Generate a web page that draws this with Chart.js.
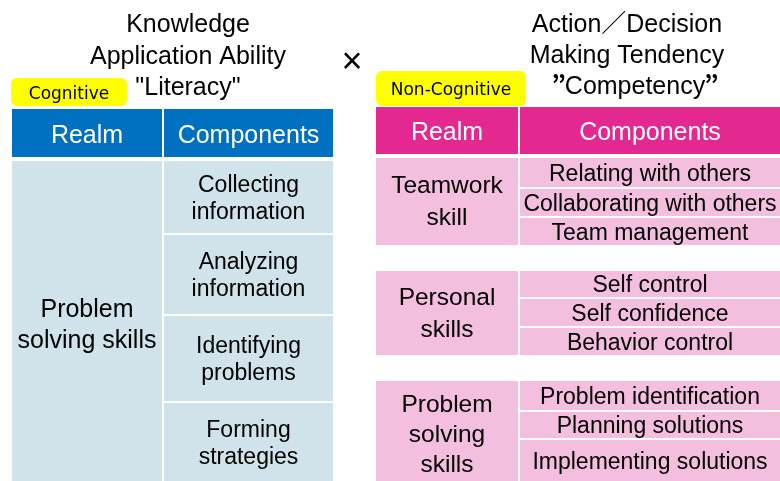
<!DOCTYPE html>
<html>
<head>
<meta charset="utf-8">
<script src="https://cdn.jsdelivr.net/npm/chart.js@4"></script>
<style>
  html, body { margin: 0; padding: 0; background: #ffffff; }
  canvas { display: block; }
</style>
</head>
<body>
<canvas id="skillsChart" width="780" height="481"></canvas>
<script>
// --- content ---
var leftTitle = ['Knowledge', 'Application Ability', '"Literacy"'];
var rightTitle = ['Action\uFF0FDecision', 'Making Tendency', 'Competency'];
var badgeLabels = ['Cognitive', 'Non-Cognitive'];
var headerLabels = ['Realm', 'Components'];
var leftRealm = ['Problem', 'solving skills'];
var leftComponents = [
    ['Collecting', 'information'],
    ['Analyzing', 'information'],
    ['Identifying', 'problems'],
    ['Forming', 'strategies']
];
var rightRealms = [
    ['Teamwork', 'skill'],
    ['Personal', 'skills'],
    ['Problem', 'solving', 'skills']
];
var rightComponents = [
    ['Relating with others', 'Collaborating with others', 'Team management'],
    ['Self control', 'Self confidence', 'Behavior control'],
    ['Problem identification', 'Planning solutions', 'Implementing solutions']
];

// --- layout (in scale units, same as pixels here) ---
var LEFT_X = { realm: [12, 162], comp: [164, 333], title: 188 };
var LEFT_HEAD_Y = [109, 157];
var LEFT_ROWS = [[161, 233], [235, 314], [316, 401], [403, 481]];
var RIGHT_X = { realm: [376, 518], comp: [520, 780], title: 627 };
var RIGHT_HEAD_Y = [107, 154];
var RIGHT_ROWS = [
    [[158, 187], [189, 216], [218, 245]],
    [[271, 297], [299, 326], [328, 355]],
    [[381, 410], [412, 438], [440, 481]]
];

var COLORS = {
    blueHead: '#0070c0',
    blueBody: '#d1e3ea',
    pinkHead: '#e3288f',
    pinkBody: '#f4bedf',
    badge: '#ffff00',
    text: '#000000'
};
var FONT = '"Liberation Sans", Arial, "Noto Sans CJK JP", sans-serif';

var tablePlugin = {
    id: 'tableDraw',
    afterDraw: function(chart) {
        var ctx = chart.ctx;
        var sx = chart.scales.x;
        var sy = chart.scales.y;

        function rect(x0, x1, y0, y1, color) {
            var a = sx.getPixelForValue(x0);
            var b = sx.getPixelForValue(x1);
            var c = sy.getPixelForValue(y0);
            var d = sy.getPixelForValue(y1);
            ctx.fillStyle = color;
            ctx.fillRect(a, c, b - a, d - c);
        }

        // centred lines of text; cy is the middle of the capitals
        function lines(textLines, cx, cy, size, gap, color) {
            ctx.font = size + 'px ' + FONT;
            ctx.fillStyle = color || COLORS.text;
            ctx.textAlign = 'center';
            ctx.textBaseline = 'alphabetic';
            var start = cy - (textLines.length - 1) * gap / 2;
            textLines.forEach(function(t, i) {
                ctx.fillText(t, sx.getPixelForValue(cx), sy.getPixelForValue(start + i * gap + size * 0.358));
            });
        }

        function badge(label, x0, x1, y0, y1) {
            var a = sx.getPixelForValue(x0);
            var b = sx.getPixelForValue(x1);
            var c = sy.getPixelForValue(y0);
            var d = sy.getPixelForValue(y1);
            ctx.fillStyle = COLORS.badge;
            ctx.beginPath();
            ctx.roundRect(a, c, b - a, d - c, 6);
            ctx.fill();
            ctx.font = '17px "DejaVu Sans", sans-serif';
            ctx.fillStyle = COLORS.text;
            ctx.textAlign = 'center';
            ctx.textBaseline = 'alphabetic';
            ctx.fillText(label, (a + b) / 2, (c + d) / 2 + 6.5);
        }

        ctx.save();

        // titles
        ctx.font = '25px ' + FONT;
        ctx.fillStyle = COLORS.text;
        ctx.textAlign = 'center';
        ctx.textBaseline = 'alphabetic';
        var baselines = [32, 64, 95];
        leftTitle.forEach(function(t, i) {
            ctx.fillText(t, sx.getPixelForValue(LEFT_X.title), sy.getPixelForValue(baselines[i]));
        });
        var rBaselines = [32, 63, 94];
        ctx.fillText(rightTitle[0], sx.getPixelForValue(RIGHT_X.title), sy.getPixelForValue(rBaselines[0]));
        ctx.fillText(rightTitle[1], sx.getPixelForValue(RIGHT_X.title), sy.getPixelForValue(rBaselines[1]));

        // third line wrapped in heavy full-width quote marks
        var q = '\u201D';
        var word = rightTitle[2];
        var wordW = ctx.measureText(word).width;
        var qFont = 'bold 25px "Noto Sans CJK JP", sans-serif';
        var mid = sx.getPixelForValue(635);
        var by = sy.getPixelForValue(rBaselines[2]);
        ctx.textAlign = 'left';
        ctx.fillText(word, mid - wordW / 2, by);
        ctx.font = qFont;
        ctx.textAlign = 'right';
        ctx.fillText(q, mid - wordW / 2 + 1, by);
        ctx.textAlign = 'left';
        ctx.fillText(q, mid + wordW / 2 - 1, by);

        ctx.font = '36px ' + FONT;
        ctx.textAlign = 'center';
        ctx.textBaseline = 'middle';
        ctx.fillText('\u00D7', sx.getPixelForValue(352), sy.getPixelForValue(63));

        // left table
        rect(LEFT_X.realm[0], LEFT_X.realm[1], LEFT_HEAD_Y[0], LEFT_HEAD_Y[1], COLORS.blueHead);
        rect(LEFT_X.comp[0], LEFT_X.comp[1], LEFT_HEAD_Y[0], LEFT_HEAD_Y[1], COLORS.blueHead);
        var lhMid = (LEFT_HEAD_Y[0] + LEFT_HEAD_Y[1]) / 2;
        lines([headerLabels[0]], (LEFT_X.realm[0] + LEFT_X.realm[1]) / 2, lhMid + 1, 25, 0, '#ffffff');
        lines([headerLabels[1]], (LEFT_X.comp[0] + LEFT_X.comp[1]) / 2, lhMid + 1, 25, 0, '#ffffff');

        var lTop = LEFT_ROWS[0][0];
        var lBot = LEFT_ROWS[LEFT_ROWS.length - 1][1];
        rect(LEFT_X.realm[0], LEFT_X.realm[1], lTop, lBot, COLORS.blueBody);
        lines(leftRealm, (LEFT_X.realm[0] + LEFT_X.realm[1]) / 2, 323.5, 25, 31);
        leftComponents.forEach(function(comp, i) {
            var r = LEFT_ROWS[i];
            rect(LEFT_X.comp[0], LEFT_X.comp[1], r[0], r[1], COLORS.blueBody);
            lines(comp, (LEFT_X.comp[0] + LEFT_X.comp[1]) / 2, (r[0] + r[1]) / 2, 23, 27);
        });

        // right table
        rect(RIGHT_X.realm[0], RIGHT_X.realm[1], RIGHT_HEAD_Y[0], RIGHT_HEAD_Y[1], COLORS.pinkHead);
        rect(RIGHT_X.comp[0], RIGHT_X.comp[1], RIGHT_HEAD_Y[0], RIGHT_HEAD_Y[1], COLORS.pinkHead);
        var rhMid = (RIGHT_HEAD_Y[0] + RIGHT_HEAD_Y[1]) / 2;
        lines([headerLabels[0]], (RIGHT_X.realm[0] + RIGHT_X.realm[1]) / 2, rhMid + 1, 25, 0, '#ffffff');
        lines([headerLabels[1]], (RIGHT_X.comp[0] + RIGHT_X.comp[1]) / 2, rhMid + 1, 25, 0, '#ffffff');

        rightRealms.forEach(function(realm, g) {
            var rows = RIGHT_ROWS[g];
            var top = rows[0][0];
            var bot = rows[rows.length - 1][1];
            rect(RIGHT_X.realm[0], RIGHT_X.realm[1], top, bot, COLORS.pinkBody);
            var gap = realm.length > 2 ? 30 : 32;
            var shift = realm.length > 2 ? 2 : -1;
            lines(realm, (RIGHT_X.realm[0] + RIGHT_X.realm[1]) / 2, (top + bot) / 2 + shift, 24.5, gap);
            rightComponents[g].forEach(function(comp, i) {
                var r = rows[i];
                rect(RIGHT_X.comp[0], RIGHT_X.comp[1], r[0], r[1], COLORS.pinkBody);
                lines([comp], (RIGHT_X.comp[0] + RIGHT_X.comp[1]) / 2, (r[0] + r[1]) / 2, 23, 0);
            });
        });

        // badges sit on top of the header edges
        badge(badgeLabels[0], 11, 127, 78, 106);
        badge(badgeLabels[1], 376, 526, 71, 106);

        ctx.restore();
    }
};

new Chart(document.getElementById('skillsChart').getContext('2d'), {
    type: 'scatter',
    data: { datasets: [{ data: [] }] },
    options: {
        responsive: false,
        animation: false,
        layout: { padding: 0 },
        plugins: {
            legend: { display: false },
            tooltip: { enabled: false }
        },
        scales: {
            x: { type: 'linear', min: 0, max: 780, display: false },
            y: { type: 'linear', min: 0, max: 481, reverse: true, display: false }
        }
    },
    plugins: [tablePlugin]
});
</script>
</body>
</html>
